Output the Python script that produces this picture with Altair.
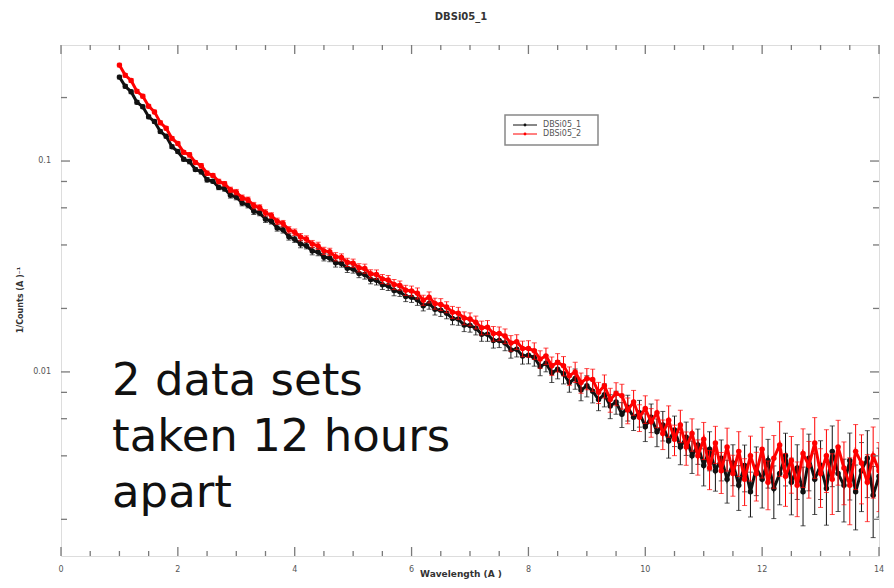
import altair as alt
import pandas as pd

# ---------------- data ----------------
WAVELENGTH = [
    1.0, 1.1, 1.2, 1.3, 1.4, 1.5, 1.6, 1.7, 1.8, 1.9,
    2.0, 2.1, 2.2, 2.3, 2.4, 2.5, 2.6, 2.7, 2.8, 2.9,
    3.0, 3.1, 3.2, 3.3, 3.4, 3.5, 3.6, 3.7, 3.8, 3.9,
    4.0, 4.1, 4.2, 4.3, 4.4, 4.5, 4.6, 4.7, 4.8, 4.9,
    5.0, 5.1, 5.2, 5.3, 5.4, 5.5, 5.6, 5.7, 5.8, 5.9,
    6.0, 6.1, 6.2, 6.3, 6.4, 6.5, 6.6, 6.7, 6.8, 6.9,
    7.0, 7.1, 7.2, 7.3, 7.4, 7.5, 7.6, 7.7, 7.8, 7.9,
    8.0, 8.1, 8.2, 8.3, 8.4, 8.5, 8.6, 8.7, 8.8, 8.9,
    9.0, 9.1, 9.2, 9.3, 9.4, 9.5, 9.6, 9.7, 9.8, 9.9,
    10.0, 10.1, 10.2, 10.3, 10.4, 10.5, 10.6, 10.7, 10.8, 10.9,
    11.0, 11.1, 11.2, 11.3, 11.4, 11.5, 11.6, 11.7, 11.8, 11.9,
    12.0, 12.1, 12.2, 12.3, 12.4, 12.5, 12.6, 12.7, 12.8, 12.9,
    13.0, 13.1, 13.2, 13.3, 13.4, 13.5, 13.6, 13.7, 13.8, 13.9,
    14.0,
]

DBSI05_1 = [
    0.250, 0.226, 0.213, 0.190, 0.181, 0.162, 0.154, 0.138, 0.131, 0.117,
    0.111, 0.102, 0.0995, 0.0912, 0.0890, 0.0815, 0.0802, 0.0750, 0.0738, 0.0688,
    0.0675, 0.0632, 0.0618, 0.0578, 0.0567, 0.0530, 0.0518, 0.0482, 0.0472, 0.0437,
    0.0426, 0.0404, 0.0397, 0.0374, 0.0370, 0.0350, 0.0347, 0.0329, 0.0327, 0.0310,
    0.0308, 0.0293, 0.0290, 0.0274, 0.0272, 0.0259, 0.0256, 0.0243, 0.0240, 0.0228,
    0.0226, 0.0220, 0.0206, 0.0211, 0.0198, 0.0196, 0.0190, 0.0179, 0.0178, 0.0167,
    0.0166, 0.0161, 0.0151, 0.0151, 0.0141, 0.0141, 0.0137, 0.0127, 0.0128, 0.0119,
    0.0120, 0.0117, 0.0106, 0.0110, 0.0099, 0.0103, 0.0098, 0.0089, 0.0093, 0.0082,
    0.0086, 0.0081, 0.0074, 0.0078, 0.0069, 0.0072, 0.0063, 0.0068, 0.0061, 0.0064,
    0.0055, 0.0061, 0.0052, 0.0056, 0.0047, 0.0053, 0.0044, 0.0049, 0.0040, 0.0045,
    0.0036, 0.0043, 0.0034, 0.0039, 0.0031, 0.0037, 0.0029, 0.0036, 0.0027, 0.0035,
    0.0031, 0.0038, 0.0028, 0.0033, 0.0040, 0.0030, 0.0035, 0.0027, 0.0039, 0.0031,
    0.0036, 0.0028, 0.0042, 0.0033, 0.0029, 0.0038, 0.0027, 0.0034, 0.0039, 0.0026,
    0.0032,
]

DBSI05_2 = [
    0.285, 0.255, 0.241, 0.214, 0.203, 0.182, 0.171, 0.152, 0.143, 0.128,
    0.121, 0.110, 0.107, 0.0985, 0.0950, 0.0875, 0.0855, 0.0800, 0.0780, 0.0730,
    0.0712, 0.0670, 0.0655, 0.0615, 0.0602, 0.0568, 0.0552, 0.0518, 0.0505, 0.0472,
    0.0460, 0.0436, 0.0427, 0.0404, 0.0396, 0.0375, 0.0371, 0.0352, 0.0349, 0.0331,
    0.0328, 0.0312, 0.0309, 0.0292, 0.0290, 0.0276, 0.0273, 0.0260, 0.0257, 0.0244,
    0.0242, 0.0236, 0.0219, 0.0226, 0.0211, 0.0209, 0.0203, 0.0192, 0.0190, 0.0180,
    0.0178, 0.0172, 0.0162, 0.0163, 0.0152, 0.0152, 0.0148, 0.0137, 0.0139, 0.0129,
    0.0129, 0.0126, 0.0115, 0.0119, 0.0107, 0.0111, 0.0107, 0.0096, 0.0100, 0.0089,
    0.0093, 0.0092, 0.0080, 0.0086, 0.0074, 0.0079, 0.0077, 0.0066, 0.0072, 0.0061,
    0.0067, 0.0058, 0.0064, 0.0051, 0.0059, 0.0048, 0.0056, 0.0044, 0.0051, 0.0040,
    0.0048, 0.0035, 0.0046, 0.0034, 0.0044, 0.0033, 0.0042, 0.0031, 0.0040, 0.0033,
    0.0043, 0.0030, 0.0039, 0.0045, 0.0032, 0.0038, 0.0029, 0.0041, 0.0036, 0.0046,
    0.0033, 0.0040, 0.0031, 0.0044, 0.0035, 0.0029, 0.0042, 0.0037, 0.0030, 0.0040,
    0.0034,
]

# relative size of the error bars at each wavelength
REL_ERR = [
    0.02, 0.02, 0.02, 0.02, 0.02, 0.02, 0.02, 0.02, 0.02, 0.02,
    0.02, 0.02, 0.025, 0.02, 0.025, 0.025, 0.02, 0.025, 0.025, 0.03,
    0.03, 0.03, 0.03, 0.035, 0.03, 0.035, 0.03, 0.035, 0.035, 0.035,
    0.035, 0.04, 0.035, 0.04, 0.04, 0.04, 0.04, 0.045, 0.04, 0.045,
    0.045, 0.045, 0.05, 0.045, 0.05, 0.05, 0.05, 0.055, 0.05, 0.055,
    0.055, 0.06, 0.055, 0.06, 0.06, 0.065, 0.06, 0.065, 0.065, 0.07,
    0.07, 0.07, 0.075, 0.075, 0.08, 0.075, 0.08, 0.085, 0.08, 0.085,
    0.09, 0.09, 0.095, 0.09, 0.10, 0.10, 0.105, 0.10, 0.11, 0.11,
    0.115, 0.12, 0.115, 0.125, 0.13, 0.125, 0.135, 0.14, 0.135, 0.145,
    0.15, 0.155, 0.15, 0.16, 0.17, 0.165, 0.175, 0.18, 0.175, 0.19,
    0.20, 0.21, 0.20, 0.22, 0.23, 0.22, 0.24, 0.25, 0.24, 0.26,
    0.27, 0.26, 0.28, 0.29, 0.28, 0.30, 0.29, 0.31, 0.30, 0.32,
    0.31, 0.33, 0.32, 0.34, 0.33, 0.35, 0.34, 0.36, 0.35, 0.37,
    0.36,
]

SERIES = ["DBSi05_1", "DBSi05_2"]
COLORS = ["#111111", "#ff0000"]

X_LABELS = [0, 2, 4, 6, 8, 10, 12, 14]
X_MINOR = [0.5, 1, 1.5, 2.5, 3, 3.5, 4.5, 5, 5.5, 6.5, 7, 7.5, 8.5, 9, 9.5,
           10.5, 11, 11.5, 12.5, 13, 13.5]
Y_LABELS = [0.1, 0.01]
Y_MINOR = [0.2, 0.08, 0.06, 0.04, 0.02, 0.008, 0.006, 0.004, 0.002]

TITLE = "DBSi05_1"
X_TITLE = "Wavelength (A )"
Y_TITLE = "1/Counts (A )\u207b\u00b9"
NOTE = ["2 data sets", "taken 12 hours", "apart"]

# ---------------- build ----------------
W, H = 818, 511
FONT = "DejaVu Sans"
AX = "#7a7a7a"

rows = []
for name, vals in zip(SERIES, [DBSI05_1, DBSI05_2]):
    for x, v, e in zip(WAVELENGTH, vals, REL_ERR):
        rows.append({"wavelength": x, "value": v, "lo": v * (1 - e),
                     "hi": v * (1 + e), "series": name})
df = pd.DataFrame(rows)

xs = alt.Scale(domain=[0, 14], nice=False, zero=False)
ys = alt.Scale(type="log", domain=[0.00134, 0.355], nice=False)

X_ENC = alt.X("wavelength:Q", scale=xs, axis=None)


def Y_ENC(field):
    return alt.Y(field, type="quantitative", scale=ys, axis=None)


layers = []
for name, col in zip(SERIES, COLORS):
    base = alt.Chart(df).transform_filter(alt.datum.series == name)
    err = base.mark_rule(strokeWidth=1, clip=True).encode(
        x=X_ENC, y=Y_ENC("lo"), y2="hi:Q", color=alt.value(col))
    cap_lo = base.mark_tick(orient="horizontal", size=5, thickness=1, clip=True).encode(
        x=X_ENC, y=Y_ENC("lo"), color=alt.value(col))
    cap_hi = base.mark_tick(orient="horizontal", size=5, thickness=1, clip=True).encode(
        x=X_ENC, y=Y_ENC("hi"), color=alt.value(col))
    line = base.mark_line(strokeWidth=3, clip=True).encode(
        x=X_ENC, y=Y_ENC("value"), color=alt.value(col))
    pts = base.mark_circle(size=30, opacity=1, clip=True).encode(
        x=X_ENC, y=Y_ENC("value"), color=alt.value(col))
    layers += [err, cap_lo, cap_hi, line, pts]

# inward tick marks on all four sides
tick_style = dict(color=AX, strokeWidth=1.3)
for vals, ln in ((X_LABELS, 9), (X_MINOR, 5)):
    d = pd.DataFrame({"t": vals})
    layers.append(alt.Chart(d).mark_rule(**tick_style).encode(
        x=alt.X("t:Q", scale=xs, axis=None), y=alt.value(H), y2=alt.value(H - ln)))
    layers.append(alt.Chart(d).mark_rule(**tick_style).encode(
        x=alt.X("t:Q", scale=xs, axis=None), y=alt.value(0), y2=alt.value(ln)))
for vals, ln in ((Y_LABELS, 9), (Y_MINOR, 6)):
    d = pd.DataFrame({"t": vals})
    layers.append(alt.Chart(d).mark_rule(**tick_style).encode(
        y=alt.Y("t:Q", scale=ys, axis=None), x=alt.value(0), x2=alt.value(ln)))
    layers.append(alt.Chart(d).mark_rule(**tick_style).encode(
        y=alt.Y("t:Q", scale=ys, axis=None), x=alt.value(W), x2=alt.value(W - ln)))

# tick labels (placed through the scales)
layers.append(alt.Chart(pd.DataFrame({"t": X_LABELS})).mark_text(
    font=FONT, fontSize=8, color="#555", baseline="top", align="center").encode(
    x=alt.X("t:Q", scale=xs, axis=None), y=alt.value(H + 10),
    text=alt.Text("t:Q", format="d")))
layers.append(alt.Chart(pd.DataFrame({"t": Y_LABELS})).mark_text(
    font=FONT, fontSize=8, color="#555", baseline="middle", align="right").encode(
    y=alt.Y("t:Q", scale=ys, axis=None), x=alt.value(-10),
    text=alt.Text("t:Q", format=".2~f")))

one = pd.DataFrame({"k": [0]})
# axis titles
layers.append(alt.Chart(one).mark_text(
    text=X_TITLE, font=FONT, fontSize=9, fontWeight="bold", color="#333",
    align="center", baseline="alphabetic").encode(x=alt.value(400), y=alt.value(532)))
layers.append(alt.Chart(one).mark_text(
    text=Y_TITLE, font=FONT, fontSize=8, fontWeight="bold", color="#333",
    align="center", baseline="middle", angle=270).encode(x=alt.value(-40), y=alt.value(255)))

# legend box
layers.append(alt.Chart(one).mark_rect(fill="white", stroke="#888", strokeWidth=1.5).encode(
    x=alt.value(444), x2=alt.value(537), y=alt.value(70), y2=alt.value(100)))
for i, (name, col) in enumerate(zip(SERIES, COLORS)):
    yy = 80 + 9 * i
    layers.append(alt.Chart(one).mark_rule(color=col, strokeWidth=1).encode(
        x=alt.value(452), x2=alt.value(476), y=alt.value(yy)))
    layers.append(alt.Chart(one).mark_point(filled=True, color=col, size=8, opacity=1).encode(
        x=alt.value(464), y=alt.value(yy)))
    layers.append(alt.Chart(one).mark_text(text=name, align="left", baseline="middle",
                                            font=FONT, fontSize=8, color="#555").encode(
        x=alt.value(482), y=alt.value(yy)))

# big annotation
layers.append(alt.Chart(one).mark_text(text=NOTE, align="left", baseline="alphabetic",
                                        font=FONT, fontSize=45, lineHeight=56,
                                        color="#111").encode(
    x=alt.value(51), y=alt.value(350)))

chart = alt.layer(*layers).properties(
    width=W, height=H,
    autosize=alt.AutoSizeParams(type="none"),
    padding={"left": 53, "top": 37, "right": 7, "bottom": 24},
    title=alt.TitleParams(TITLE, font=FONT, fontSize=10, fontWeight="bold", color="#333",
                          anchor="middle", frame="group", offset=22, dx=-9),
).configure_view(stroke=AX, strokeWidth=1.5).configure(background="white")

chart.save("out.html", embed_options={"renderer": "svg", "actions": False})
